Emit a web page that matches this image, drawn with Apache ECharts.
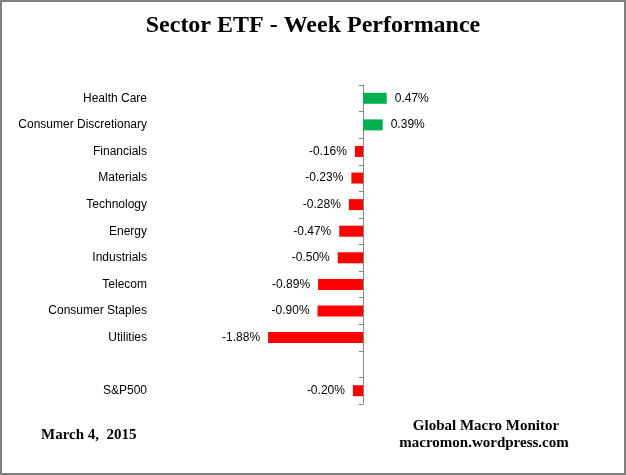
<!DOCTYPE html>
<html><head><meta charset="utf-8">
<script src="https://cdn.jsdelivr.net/npm/echarts@6/dist/echarts.min.js"></script>
<style>html,body{margin:0;padding:0;background:#fff}#c{width:626px;height:475px}</style>
</head><body><div id="c"></div>
<script>
const categories = ['Health Care','Consumer Discretionary','Financials','Materials','Technology','Energy','Industrials','Telecom','Consumer Staples','Utilities','','S&P500'];
const weekPerformance = [0.47, 0.39, -0.16, -0.23, -0.28, -0.47, -0.50, -0.89, -0.90, -1.88, null, -0.20];
const titleText = 'Sector ETF - Week Performance';
const dateText = 'March 4,  2015';
const sourceLines = ['Global Macro Monitor', 'macromon.wordpress.com'];

const chart = echarts.init(document.getElementById('c'), null, {renderer:'canvas'});
const barData = weekPerformance.map(v => v === null ? '-' : {
  value: v,
  itemStyle: {color: v >= 0 ? '#00B050' : '#FF0000'},
  label: {position: v >= 0 ? 'right' : 'left'}
});
chart.setOption({
  animation: false,
  backgroundColor: '#fff',
  title: {
    text: titleText, left: 'center', top: 9,
    textStyle: {fontFamily: 'Liberation Serif', fontWeight: 'bold', fontSize: 24, color: '#000'}
  },
  grid: {left: 161, width: 303, top: 85, height: 319},
  xAxis: {type: 'value', min: -4, max: 2, show: false},
  yAxis: [
    {type: 'category', data: categories, inverse: true,
     axisLine: {onZero: true, lineStyle: {color: '#868686', width: 1}},
     axisTick: {show: true, length: 4, lineStyle: {color: '#868686'}},
     axisLabel: {show: false}},
    {type: 'category', data: categories, inverse: true, position: 'left',
     axisLine: {show: false, onZero: false}, axisTick: {show: false},
     axisLabel: {margin: 14, fontFamily: 'Liberation Sans', fontSize: 12, color: '#000'}}
  ],
  series: [{
    type: 'bar', data: barData, barWidth: 11, yAxisIndex: 0,
    label: {show: true, distance: 8, fontFamily: 'Liberation Sans', fontSize: 12, color: '#000',
      formatter: p => p.value.toFixed(2) + '%'}
  }],
  graphic: [
    {type: 'rect', shape: {x: 1, y: 1, width: 624, height: 473},
     style: {fill: null, stroke: '#808080', lineWidth: 2}, silent: true},
    {type: 'text', x: 41, y: 435,
     style: {text: dateText, font: 'bold 15px "Liberation Serif"', fill: '#000', textAlign: 'left', textVerticalAlign: 'middle'}},
    {type: 'text', x: 486, y: 426,
     style: {text: sourceLines[0], font: 'bold 15px "Liberation Serif"', fill: '#000', textAlign: 'center', textVerticalAlign: 'middle'}},
    {type: 'text', x: 484, y: 443,
     style: {text: sourceLines[1], font: 'bold 15px "Liberation Serif"', fill: '#000', textAlign: 'center', textVerticalAlign: 'middle'}}
  ]
});
</script></body></html>
